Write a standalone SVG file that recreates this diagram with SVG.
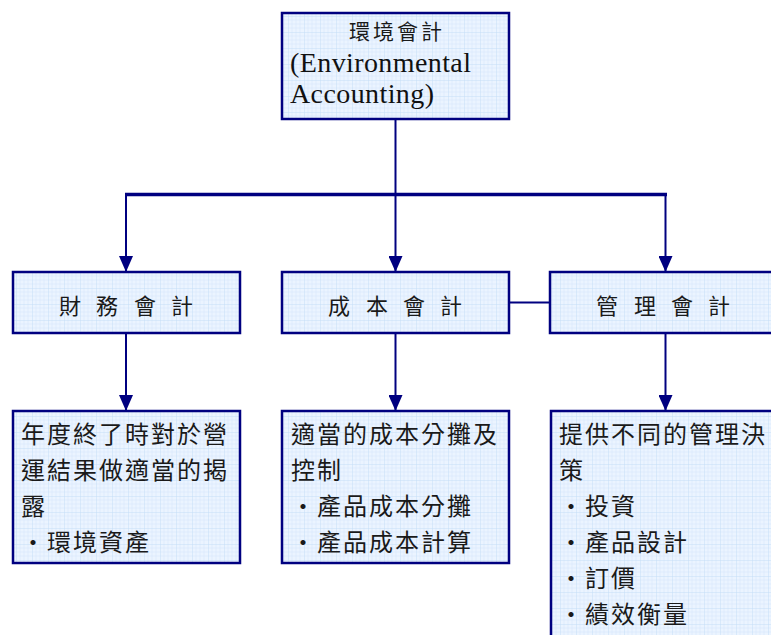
<svg xmlns="http://www.w3.org/2000/svg" width="771" height="635" viewBox="0 0 771 635">
<style>
.box{fill:url(#grid);stroke:#000080;stroke-width:2.5}
.ln{stroke:#000080;stroke-width:2;fill:none}
.bar{stroke:#000080;stroke-width:3.5;fill:none}
.cjk{font-family:"Noto Sans CJK TC","Noto Sans CJK SC",sans-serif;fill:#1a1a1a}
.lbl{font-size:22px}
.body{font-size:24px;letter-spacing:2px}
.en{font-family:"Liberation Serif",serif;font-size:28px;letter-spacing:0.4px;fill:#111}
</style>
<defs>
<pattern id="grid" width="16" height="16" patternUnits="userSpaceOnUse">
<rect width="16" height="16" fill="#EBF4FF"/>
<path d="M4 0V16M8 0V16M12 0V16M0 4H16M0 8H16M0 12H16" stroke="#D6E8FB" stroke-width="0.6"/>
<path d="M0 0V16M0 0H16" stroke="#C2DCF6" stroke-width="0.9"/>
</pattern>
<marker id="ah" viewBox="0 0 16 14" refX="16" refY="7" markerWidth="16" markerHeight="14" markerUnits="userSpaceOnUse" orient="auto">
<path d="M0 0L16 7L0 14Z" fill="#000080"/>
</marker>
</defs>
<g id="connectors">
<line class="ln" x1="395.5" y1="119" x2="395.5" y2="194"/>
<line class="bar" x1="125" y1="194.5" x2="667" y2="194.5"/>
<line class="ln" x1="126" y1="194" x2="126" y2="272" marker-end="url(#ah)"/>
<line class="ln" x1="395.5" y1="194" x2="395.5" y2="272" marker-end="url(#ah)"/>
<line class="ln" x1="665.5" y1="194" x2="665.5" y2="272" marker-end="url(#ah)"/>
<line class="ln" x1="509" y1="302.5" x2="550" y2="302.5"/>
<line class="ln" x1="126" y1="333" x2="126" y2="411" marker-end="url(#ah)"/>
<line class="ln" x1="395.5" y1="333" x2="395.5" y2="411" marker-end="url(#ah)"/>
<line class="ln" x1="665.5" y1="333" x2="665.5" y2="411" marker-end="url(#ah)"/>
</g>
<g id="env">
<rect class="box" x="282" y="13" width="227" height="106"/>
<text class="cjk" x="397" y="39" font-size="21" letter-spacing="3" text-anchor="middle">環境會計</text>
<text class="en" x="290" y="72">(Environmental</text>
<text class="en" x="290" y="103">Accounting)</text>
</g>
<g id="fin">
<rect class="box" x="13" y="272" width="227" height="61"/>
<text class="cjk lbl" x="59 96 134 171" y="314">財務會計</text>
</g>
<g id="cost">
<rect class="box" x="282" y="272" width="227" height="61"/>
<text class="cjk lbl" x="328 366 403 440" y="314">成本會計</text>
</g>
<g id="mgmt">
<rect class="box" x="550" y="272" width="230" height="61"/>
<text class="cjk lbl" x="596 634 671 708" y="314">管理會計</text>
</g>
<g id="fin-detail">
<rect class="box" x="13" y="411" width="227" height="152"/>
<text class="cjk body" x="21" y="443">年度終了時對於營</text>
<text class="cjk body" x="21" y="479">運結果做適當的揭</text>
<text class="cjk body" x="21" y="515">露</text>
<text class="cjk body" x="21" y="551">・環境資產</text>
</g>
<g id="cost-detail">
<rect class="box" x="282" y="411" width="227" height="152"/>
<text class="cjk body" x="291" y="443">適當的成本分攤及</text>
<text class="cjk body" x="291" y="479">控制</text>
<text class="cjk body" x="291" y="515">・產品成本分攤</text>
<text class="cjk body" x="291" y="551">・產品成本計算</text>
</g>
<g id="mgmt-detail">
<rect class="box" x="551" y="411" width="230" height="240"/>
<text class="cjk body" x="559" y="443">提供不同的管理決</text>
<text class="cjk body" x="559" y="479">策</text>
<text class="cjk body" x="559" y="515">・投資</text>
<text class="cjk body" x="559" y="551">・產品設計</text>
<text class="cjk body" x="559" y="587">・訂價</text>
<text class="cjk body" x="559" y="623">・績效衡量</text>
</g>
</svg>
